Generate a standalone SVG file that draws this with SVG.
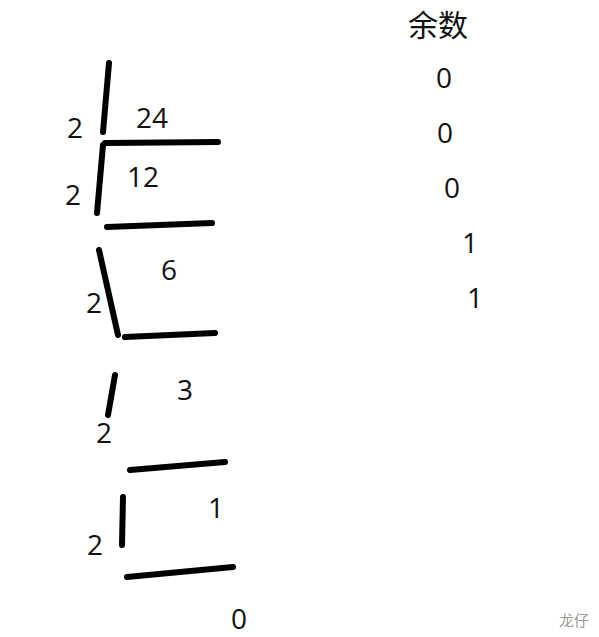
<svg xmlns="http://www.w3.org/2000/svg" width="599" height="637" viewBox="0 0 599 637">
<style>
.t{font-family:"Open Sans","Liberation Sans",sans-serif;font-size:28px;fill:#111}
.c{font-family:"Noto Sans CJK SC",sans-serif;font-size:30px;fill:#111}
.w{font-family:"Noto Sans CJK SC",sans-serif;font-size:15px;fill:#999}
.s{stroke:#000;stroke-width:6;stroke-linecap:round;fill:none}
</style>
<rect width="599" height="637" fill="#fff"/>
<g id="strokes">
<path class="s" d="M109 63 L103 132"/>
<path class="s" d="M105 143 L218 142"/>
<path class="s" d="M103 145 L97 213"/>
<path class="s" d="M107 227 L212 223"/>
<path class="s" d="M99 250 L118 335"/>
<path class="s" d="M125 337 L215 333"/>
<path class="s" d="M115 375 L108 415"/>
<path class="s" d="M130 470 L225 462"/>
<path class="s" d="M123 497 L122 545"/>
<path class="s" d="M127 577 L233 567"/>
</g>
<g id="division">
<text class="t" x="67" y="138">2</text>
<text class="t" x="136" y="128">24</text>
<text class="t" x="127" y="187">12</text>
<text class="t" x="65" y="205">2</text>
<text class="t" x="161" y="280">6</text>
<text class="t" x="86" y="313">2</text>
<text class="t" x="177" y="400">3</text>
<text class="t" x="96" y="443">2</text>
<text class="t" x="208" y="518">1</text>
<text class="t" x="87" y="555">2</text>
<text class="t" x="231" y="629">0</text>
</g>
<g id="remainders">
<text class="c" x="408" y="36">余数</text>
<text class="t" x="436" y="88">0</text>
<text class="t" x="437" y="143">0</text>
<text class="t" x="444" y="198">0</text>
<text class="t" x="462" y="253">1</text>
<text class="t" x="467" y="308">1</text>
</g>
<text class="w" x="559" y="626">龙仔</text>
</svg>
